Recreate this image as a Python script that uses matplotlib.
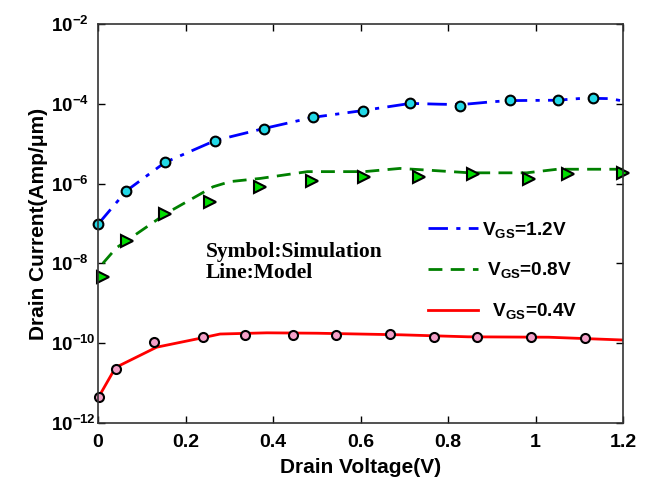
import numpy as np
import matplotlib
matplotlib.use("Agg")
import matplotlib.pyplot as plt
from matplotlib.lines import Line2D

# simulation points (symbols), log10 of current
x_sim_12 = [0.0, 0.065, 0.153, 0.268, 0.379, 0.491, 0.605, 0.714, 0.827, 0.942, 1.051, 1.131]
logI_sim_12 = [-7.02, -6.18, -5.47, -4.92, -4.62, -4.34, -4.17, -3.99, -4.05, -3.91, -3.91, -3.85]

x_sim_08 = [0.012, 0.067, 0.153, 0.256, 0.371, 0.490, 0.609, 0.734, 0.856, 0.984, 1.075, 1.2]
logI_sim_08 = [-8.33, -7.44, -6.77, -6.45, -6.08, -5.93, -5.83, -5.83, -5.77, -5.88, -5.77, -5.74]

x_sim_04 = [0.002, 0.040, 0.128, 0.240, 0.337, 0.446, 0.545, 0.668, 0.767, 0.867, 0.990, 1.112]
logI_sim_04 = [-11.36, -10.65, -9.97, -9.84, -9.80, -9.80, -9.80, -9.78, -9.85, -9.85, -9.85, -9.88]

# model curves (lines)
x_mod_12 = [0.0, 0.065, 0.153, 0.268, 0.379, 0.491, 0.605, 0.714, 0.78, 0.83, 0.9, 0.94, 1.05, 1.11, 1.17, 1.2]
logI_mod_12 = [-7.02, -6.18, -5.47, -4.92, -4.62, -4.34, -4.17, -3.99, -4.01, -4.02, -3.95, -3.92, -3.91, -3.86, -3.87, -3.93]

x_mod_08 = [0.011, 0.042, 0.157, 0.263, 0.302, 0.371, 0.479, 0.609, 0.69, 0.75, 0.85, 0.98, 1.05, 1.2]
logI_mod_08 = [-8.0, -7.61, -6.74, -6.08, -5.95, -5.87, -5.70, -5.70, -5.62, -5.66, -5.73, -5.73, -5.64, -5.64]

x_mod_04 = [0.002, 0.040, 0.134, 0.232, 0.279, 0.386, 0.501, 0.693, 0.846, 1.03, 1.2]
logI_mod_04 = [-11.34, -10.61, -10.10, -9.88, -9.77, -9.74, -9.75, -9.79, -9.84, -9.85, -9.92]

legend_labels = [r"V$_{\mathregular{GS}}$=1.2V", r" V$_{\mathregular{GS}}$=0.8V", r"  V$_{\mathregular{GS}}$=0.4V"]
y_ticks = [1e-12, 1e-10, 1e-8, 1e-6, 1e-4, 1e-2]
y_ticklabels = [r"$10^{-12}$", r"$10^{-10}$", r"$10^{-8}$", r"$10^{-6}$", r"$10^{-4}$", r"$10^{-2}$"]
x_ticks = [0, 0.2, 0.4, 0.6, 0.8, 1, 1.2]
x_ticklabels = ["0", "0.2", "0.4", "0.6", "0.8", "1", "1.2"]

plt.rcParams["font.family"] = ["Liberation Sans", "DejaVu Sans"]
plt.rcParams["font.weight"] = "bold"
plt.rcParams["mathtext.fontset"] = "custom"
plt.rcParams["mathtext.rm"] = "Liberation Sans:bold"
plt.rcParams["mathtext.it"] = "Liberation Sans:bold"
plt.rcParams["mathtext.bf"] = "Liberation Sans:bold"

fig = plt.figure(figsize=(6.48, 4.83), dpi=100)
ax = fig.add_axes([98 / 648, 1 - 423 / 483, 525 / 648, 399 / 483])

def p(v):
    return 10 ** np.array(v)

ax.plot(x_mod_12, p(logI_mod_12), color="#0000ff", lw=2, dashes=[7, 3, 1.5, 3])
ax.plot(x_mod_08, p(logI_mod_08), color="#008000", lw=2, dashes=[5, 3])
ax.plot(x_mod_04, p(logI_mod_04), color="#ff0000", lw=2)

ax.plot(x_sim_12, p(logI_sim_12), "o", ms=7, mfc="#22d8e6", mec="black", mew=1.5, clip_on=False)
ax.plot(x_sim_08, p(logI_sim_08), ">", ms=8, mfc="#00dd00", mec="black", mew=1.5, clip_on=False)
ax.plot(x_sim_04, p(logI_sim_04), "o", ms=6.5, mfc="#f4a0c8", mec="black", mew=1.5, clip_on=False)

ax.set_yscale("log")
ax.set_xlim(0, 1.2)
ax.set_ylim(1e-12, 1e-2)
ax.set_yticks(y_ticks)
ax.set_yticklabels(y_ticklabels, ha="left")
ax.set_xticks(x_ticks)
ax.set_xticklabels(x_ticklabels)
ax.minorticks_off()
ax.tick_params(which="both", direction="in", top=True, right=True, length=5, width=1)
ax.tick_params(axis="x", labelsize=14, pad=8)
ax.tick_params(axis="y", labelsize=13.5, pad=34)
for s in ax.spines.values():
    s.set_linewidth(1.2)
    s.set_color("#333333")

ax.set_xlabel("Drain Voltage(V)", fontsize=15, fontweight="bold", labelpad=5)
ax.set_ylabel("Drain Current(Amp/\u03bcm)", fontsize=15, fontweight="bold", labelpad=2)

ax.text(0.205, 0.453, "Symbol:Simulation\nLine:Model", transform=ax.transAxes,
        family=["Liberation Serif"], fontsize=15.5, fontweight="bold", linespacing=1.07, va="top")

handles = [Line2D([], [], color="#0000ff", lw=2, dashes=[7, 3, 1.5, 3]),
           Line2D([], [], color="#008000", lw=2, dashes=[5, 3]),
           Line2D([], [], color="#ff0000", lw=2)]
ax.legend(handles, legend_labels, loc="upper left", bbox_to_anchor=(0.629, 0.51),
          frameon=False, fontsize=13.7, handlelength=2.6, handletextpad=0.2,
          labelspacing=1.1, borderpad=0, borderaxespad=0)

fig.set_facecolor("white")
plt.savefig("out.png", dpi=100)
